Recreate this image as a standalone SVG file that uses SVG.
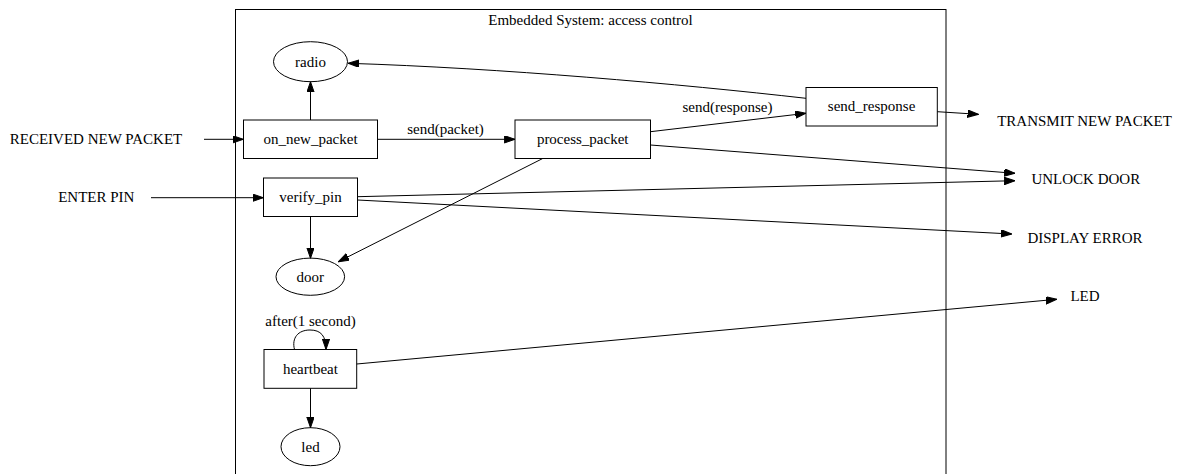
<svg xmlns="http://www.w3.org/2000/svg" width="1178" height="474" viewBox="0 0 1178 474">
  <style>
    text { font-family: "Liberation Serif", "Times New Roman", serif; font-size: 15px; fill: #000; text-anchor: middle; }
    .shape { fill: none; stroke: #000; stroke-width: 1; }
    .edge { fill: none; stroke: #000; stroke-width: 1; marker-end: url(#arrow); }
  </style>
  <defs>
    <marker id="arrow" markerUnits="userSpaceOnUse" markerWidth="11" markerHeight="8" refX="10.7" refY="3.7" orient="auto">
      <path d="M0,0 L10.7,3.7 L0,7.4 Z" fill="#000" stroke="#000" stroke-width="1"/>
    </marker>
  </defs>
  <rect width="1178" height="474" fill="#fff"/>

  <!-- cluster: embedded system -->
  <g id="cluster_system">
    <rect class="shape" x="235.5" y="9.5" width="710.5" height="480"/>
    <text x="590.5" y="25">Embedded System: access control</text>
  </g>

  <!-- external inputs / outputs -->
  <g id="received_new_packet"><text x="96" y="144">RECEIVED NEW PACKET</text></g>
  <g id="enter_pin"><text x="96.3" y="201.7">ENTER PIN</text></g>
  <g id="transmit_new_packet"><text x="1084.5" y="126">TRANSMIT NEW PACKET</text></g>
  <g id="unlock_door"><text x="1085.8" y="184.3">UNLOCK DOOR</text></g>
  <g id="display_error"><text x="1085" y="242.7">DISPLAY ERROR</text></g>
  <g id="led_out"><text x="1085" y="301">LED</text></g>

  <!-- internal nodes -->
  <g id="radio">
    <ellipse class="shape" cx="310.5" cy="61.7" rx="37" ry="20"/>
    <text x="310.5" y="66.5">radio</text>
  </g>
  <g id="on_new_packet">
    <rect class="shape" x="243.5" y="120" width="134" height="38.5"/>
    <text x="310.5" y="143.8">on_new_packet</text>
  </g>
  <g id="process_packet">
    <rect class="shape" x="515" y="120" width="135.5" height="38.5"/>
    <text x="582.7" y="143.8">process_packet</text>
  </g>
  <g id="send_response">
    <rect class="shape" x="806" y="87.5" width="131.3" height="38.5"/>
    <text x="871.6" y="111.3">send_response</text>
  </g>
  <g id="verify_pin">
    <rect class="shape" x="263.5" y="178" width="94" height="38.5"/>
    <text x="310.5" y="202">verify_pin</text>
  </g>
  <g id="door">
    <ellipse class="shape" cx="310.3" cy="276.7" rx="34.3" ry="18.6"/>
    <text x="310.3" y="281.5">door</text>
  </g>
  <g id="heartbeat">
    <rect class="shape" x="264" y="349.5" width="92.7" height="38.8"/>
    <text x="310.4" y="373.5">heartbeat</text>
  </g>
  <g id="led">
    <ellipse class="shape" cx="310.5" cy="446.7" rx="29.5" ry="19"/>
    <text x="310.5" y="451.5">led</text>
  </g>

  <!-- connectors -->
  <g id="edges">
    <path class="edge" d="M204,139.3 L243.3,139.3"/>
    <path class="edge" d="M151,197.7 L263.3,197.7"/>
    <path class="edge" d="M310.5,120 L310.5,81.7"/>
    <path class="edge" d="M377.5,139.3 L515,139.3"/>
    <text x="445.5" y="134">send(packet)</text>
    <path class="edge" d="M650.5,131.7 L806,113.3"/>
    <text x="727.5" y="111.5">send(response)</text>
    <path class="edge" d="M806,98.3 C680,84 500,68 348.3,63.3"/>
    <path class="edge" d="M937.3,111.7 L978.3,114.3"/>
    <path class="edge" d="M650.5,145 L1015,173.3"/>
    <path class="edge" d="M542.7,158.5 L338.3,261.7"/>
    <path class="edge" d="M357.5,196.7 L1015,180.7"/>
    <path class="edge" d="M357.5,200 L1011.7,234"/>
    <path class="edge" d="M310.5,216.5 L310.5,258.3"/>
    <path class="edge" d="M294.5,349.5 C291.5,338 298,330 310,330 C321,330 326,336 326,349.5"/>
    <text x="310.5" y="325.5">after(1 second)</text>
    <path class="edge" d="M356.7,364 L1056.7,299.3"/>
    <path class="edge" d="M310.5,388.3 L310.5,427.7"/>
  </g>
</svg>
